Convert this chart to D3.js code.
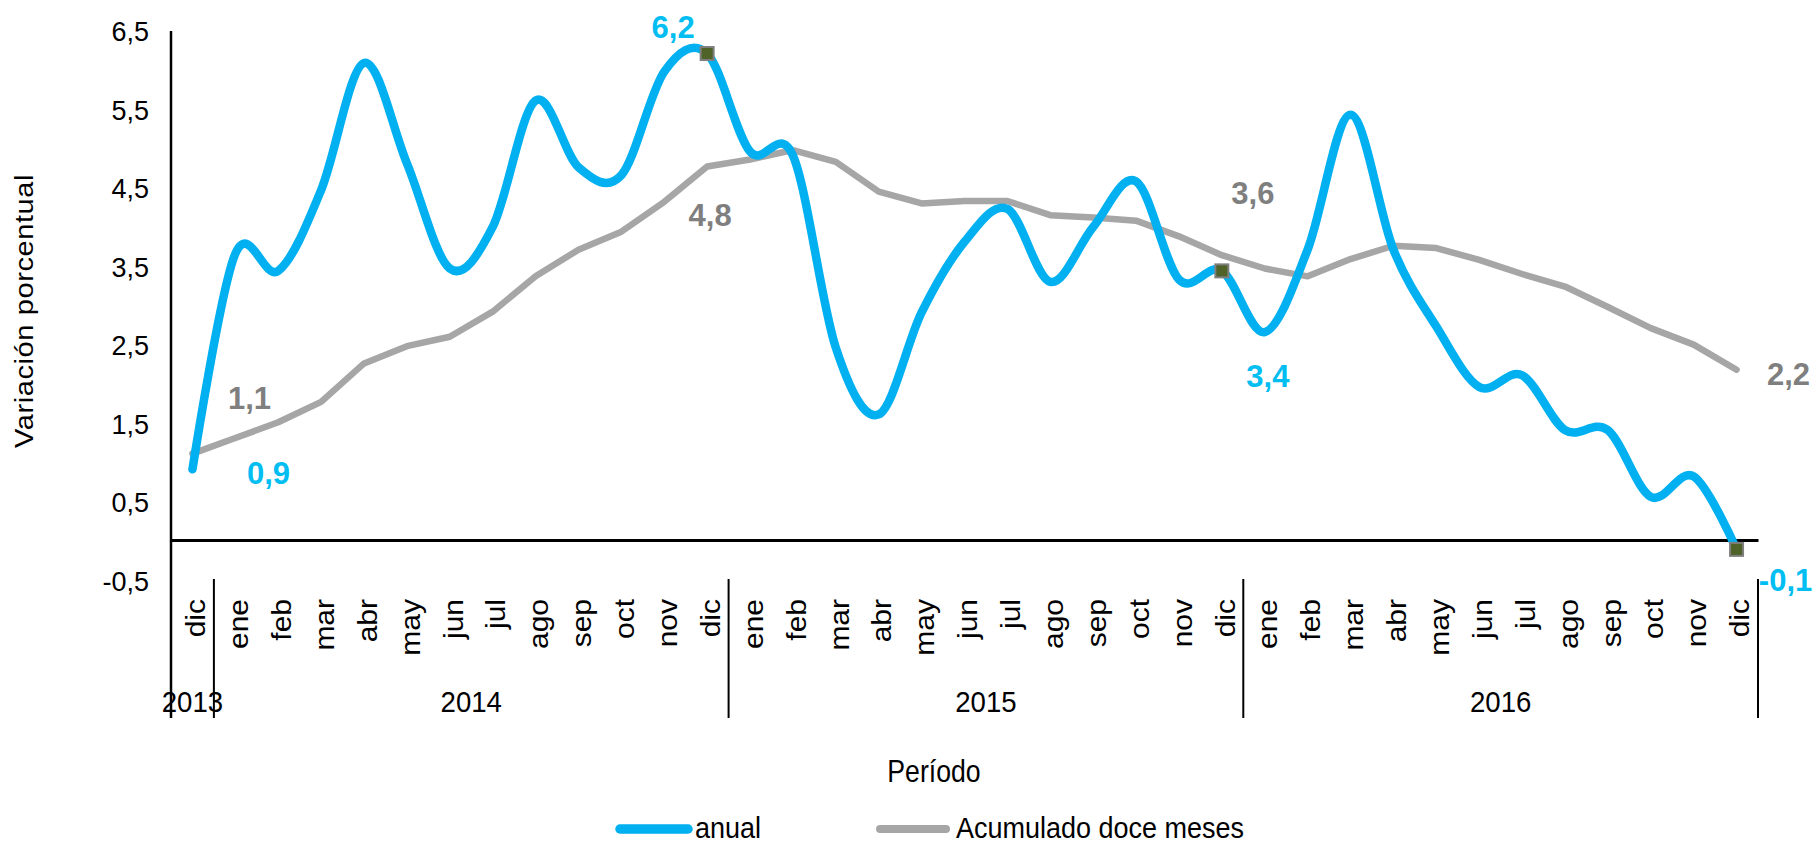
<!DOCTYPE html>
<html><head><meta charset="utf-8">
<script src="https://cdn.jsdelivr.net/npm/d3@7"></script>
<style>body{margin:0;background:#fff} svg{display:block} text{font-family:"Liberation Sans", Arial, sans-serif}</style>
</head><body>
<svg id="c" width="1815" height="846"></svg>
<script>
// ---- data ----
const months = ["dic",
  "ene","feb","mar","abr","may","jun","jul","ago","sep","oct","nov","dic",
  "ene","feb","mar","abr","may","jun","jul","ago","sep","oct","nov","dic",
  "ene","feb","mar","abr","may","jun","jul","ago","sep","oct","nov","dic"];
const yearLabels = ["2013","2014","2015","2016"];
const yearMonthCounts = [1, 12, 12, 12];
const anual = [0.90,
  3.65,3.43,4.46,6.08,4.80,3.46,3.99,5.60,4.75,4.65,5.97,6.20,
  4.95,4.90,2.45,1.60,2.90,3.80,4.22,3.29,3.99,4.57,3.32,3.43,
  2.65,3.70,5.42,3.70,2.72,1.95,2.10,1.40,1.40,0.55,0.81,-0.12];
const acumulado = [1.10,
  1.30,1.50,1.76,2.25,2.47,2.59,2.91,3.36,3.70,3.93,4.31,4.76,
  4.85,4.97,4.82,4.44,4.29,4.32,4.32,4.14,4.11,4.07,3.87,3.63,
  3.46,3.36,3.58,3.75,3.72,3.57,3.39,3.23,2.97,2.70,2.49,2.17];
const yTicks = [-0.5,0.5,1.5,2.5,3.5,4.5,5.5,6.5];
const markerIdx = [12, 24, 36];
const seriesNames = ["anual", "Acumulado doce meses"];
const yTitle = "Variación porcentual";
const xTitle = "Período";

// ---- setup ----
const svg = d3.select("#c");
const fmt = v => d3.format(".1f")(v).replace(".", ",").replace("\u2212", "-");
const BLUE = "#00B0F0", GRAY = "#A6A6A6", LBLUE = "#00BDF2", LGRAY = "#7F7F7F";

const x = d3.scaleBand().domain(d3.range(months.length)).range([171, 1758]).padding(0);
const y = d3.scaleLinear().domain([-0.5, 6.5]).range([579.2, 30]);
const cx = i => x(i) + x.bandwidth() / 2;

// y axis labels
const yAxis = d3.axisLeft(y).tickValues(yTicks).tickSize(0).tickPadding(22).tickFormat(fmt);
const gy = svg.append("g").attr("transform", "translate(171,0)").call(yAxis);
gy.select(".domain").remove();
gy.selectAll("text").attr("font-size", 27).attr("fill", "#000").attr("dy", "0.40em")
  .style("font-family", '"Liberation Sans", Arial, sans-serif');

// y axis line
svg.append("line").attr("x1", 171).attr("x2", 171).attr("y1", y(6.5) + 1).attr("y2", 718)
  .attr("stroke", "#000").attr("stroke-width", 2.5);

// x axis (zero line + month labels)
const xAxis = d3.axisBottom(x).tickSize(0).tickSizeOuter(0).tickFormat(i => months[i]);
const gx = svg.append("g").attr("transform", `translate(0,${y(0)})`).call(xAxis);
gx.select(".domain").attr("stroke", "#000").attr("stroke-width", 3);
gx.selectAll("text")
  .attr("font-size", 30).attr("fill", "#000")
  .attr("text-anchor", "end").attr("x", 0).attr("y", 0).attr("dy", "0.36em")
  .attr("transform", `translate(3,${599 - y(0)}) rotate(-90) scale(1,0.9)`)
  .style("font-family", '"Liberation Sans", Arial, sans-serif');

// year separators and labels
let acc = 0;
const bounds = [x.range()[0]];
yearMonthCounts.forEach(c => { acc += c; bounds.push(acc < months.length ? x(acc) : x.range()[1]); });
bounds.slice(1).forEach(b => {
  svg.append("line").attr("x1", b).attr("x2", b).attr("y1", 579).attr("y2", 718)
    .attr("stroke", "#000").attr("stroke-width", 2);
});
yearLabels.forEach((lab, k) => {
  const mid = (bounds[k] + bounds[k + 1]) / 2;
  svg.append("text").attr("transform", `translate(${mid},712) scale(0.92,1)`)
    .attr("text-anchor", "middle").attr("font-size", 30).attr("fill", "#000").text(lab);
});

// axis titles
svg.append("text").attr("transform", "translate(33,311) rotate(-90) scale(1,0.88)")
  .attr("text-anchor", "middle").attr("font-size", 29).attr("letter-spacing", 0.6)
  .attr("fill", "#000").text(yTitle);
svg.append("text").attr("transform", "translate(934,782) scale(0.86,1)")
  .attr("text-anchor", "middle").attr("font-size", 31).attr("fill", "#000").text(xTitle);

// lines
const lineLin = d3.line().x((d, i) => cx(i)).y(d => y(d));
const lineSmooth = d3.line().x((d, i) => cx(i)).y(d => y(d)).curve(d3.curveCatmullRom.alpha(0));

svg.append("path").datum(acumulado).attr("d", lineLin)
  .attr("fill", "none").attr("stroke", GRAY).attr("stroke-width", 6.5)
  .attr("stroke-linejoin", "round").attr("stroke-linecap", "round");
svg.append("path").datum(anual).attr("d", lineSmooth)
  .attr("fill", "none").attr("stroke", BLUE).attr("stroke-width", 8.5)
  .attr("stroke-linejoin", "round").attr("stroke-linecap", "round");

// markers
svg.selectAll("rect.mk").data(markerIdx).join("rect").attr("class", "mk")
  .attr("x", i => cx(i) - 6.5).attr("y", i => y(anual[i]) - 6.5)
  .attr("width", 13).attr("height", 13)
  .attr("fill", "#4F6228").attr("stroke", "#7F7F7F").attr("stroke-width", 2);

// data labels (index, dx, dy offsets from point)
const labelsAnual = [[0, 76, 4], [12, -34, -26], [24, 46, 106], [36, 49, 31]];
const labelsAcum = [[0, 57, -55], [12, 3, 49], [24, 31, -62], [36, 52, 5]];
labelsAnual.forEach(([i, dx, dy]) => {
  svg.append("text").attr("x", cx(i) + dx).attr("y", y(anual[i]) + dy)
    .attr("text-anchor", "middle").attr("dominant-baseline", "central")
    .attr("font-size", 31).attr("font-weight", "bold").attr("fill", LBLUE).text(fmt(anual[i]));
});
labelsAcum.forEach(([i, dx, dy]) => {
  svg.append("text").attr("x", cx(i) + dx).attr("y", y(acumulado[i]) + dy)
    .attr("text-anchor", "middle").attr("dominant-baseline", "central")
    .attr("font-size", 31).attr("font-weight", "bold").attr("fill", LGRAY).text(fmt(acumulado[i]));
});

// legend
const leg = [{name: seriesNames[0], color: BLUE, w: 9.5, x1: 620, x2: 688, tx: 695},
             {name: seriesNames[1], color: GRAY, w: 8, x1: 880, x2: 946, tx: 956}];
leg.forEach(l => {
  svg.append("line").attr("x1", l.x1).attr("x2", l.x2).attr("y1", 829).attr("y2", 829)
    .attr("stroke", l.color).attr("stroke-width", l.w).attr("stroke-linecap", "round");
  svg.append("text").attr("transform", `translate(${l.tx},838) scale(0.9,1)`)
    .attr("font-size", 30).attr("fill", "#000").text(l.name);
});
</script>
</body></html>
